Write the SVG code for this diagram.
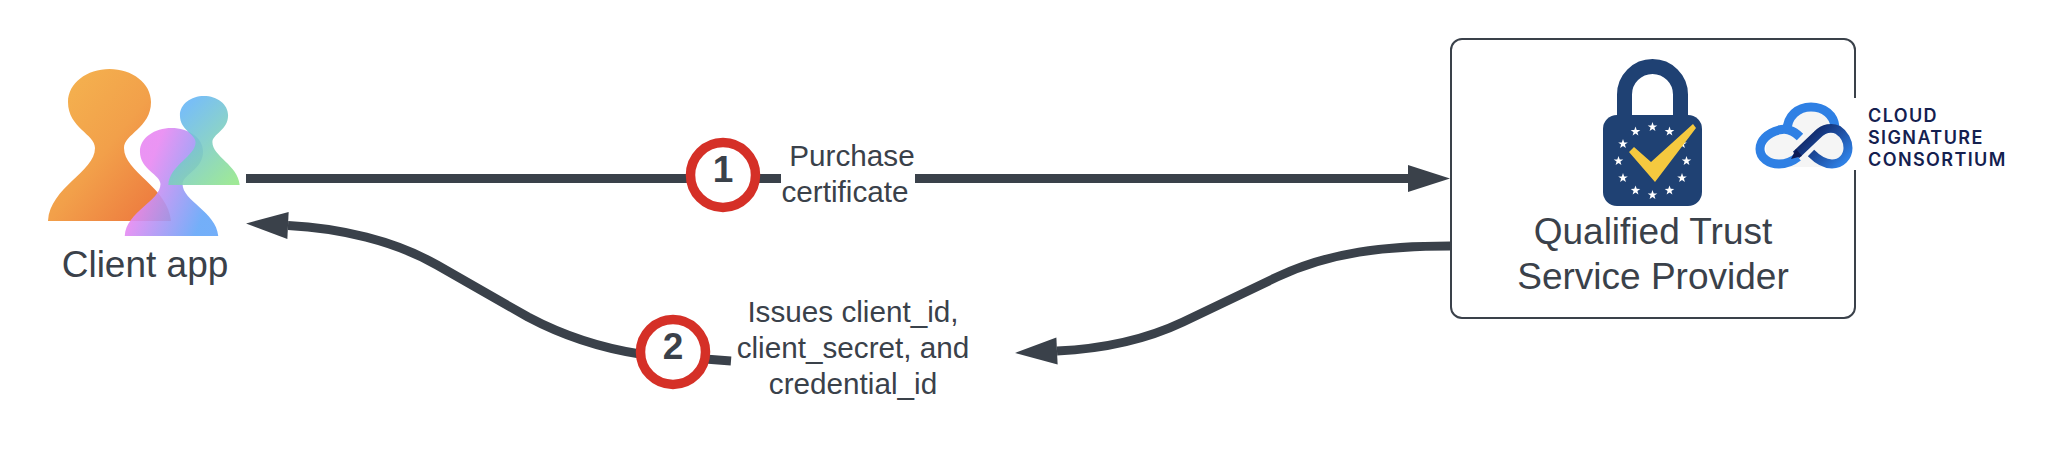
<svg xmlns="http://www.w3.org/2000/svg" width="2062" height="458" viewBox="0 0 2062 458">
<style>
text{font-family:"Liberation Sans",Arial,sans-serif;fill:#3a414a}
.node{font-size:37px;text-anchor:middle}
.lbl{font-size:29.7px;text-anchor:middle}
.num{font-size:37px;font-weight:700;text-anchor:middle}
.conn{fill:none;stroke:#3a414a;stroke-width:9}
.badge{fill:#fff;stroke:#d53027;stroke-width:9.500}
.logo{font-family:Inter,"Liberation Sans",sans-serif;font-size:18px;font-weight:600;letter-spacing:1.400px;fill:#14204f}
.c{fill:none;stroke-width:9;stroke-linecap:butt}
</style>
<defs>
<marker id="ah" markerUnits="userSpaceOnUse" markerWidth="44" markerHeight="30" refX="0" refY="15" orient="auto" overflow="visible"><path d="M0 1.500L42 15L0 28.500Z" fill="#3a414a"/></marker>
<linearGradient id="gO" x1="0" y1="0" x2="1" y2="1"><stop offset="0" stop-color="#f5b650"/><stop offset=".5" stop-color="#f2a04a"/><stop offset="1" stop-color="#ec713c"/></linearGradient>
<linearGradient id="gP" x1="0" y1="0" x2="1" y2=".45"><stop offset=".35" stop-color="#e888f2"/><stop offset="1" stop-color="#64a6f8"/></linearGradient>
<linearGradient id="gT" x1=".1" y1="0" x2=".9" y2="1"><stop offset=".15" stop-color="#66b6f4"/><stop offset="1" stop-color="#92e688"/></linearGradient>
<linearGradient id="gD" gradientUnits="userSpaceOnUse" x1="1800" y1="130" x2="1838" y2="168"><stop offset="0" stop-color="#0b1a54"/><stop offset=".55" stop-color="#1d4c9e"/><stop offset="1" stop-color="#2f80e4"/></linearGradient>
<path id="pawn" d="M48 221C50 187 95 172 95 148C95 134 68 128 68 102C68 83 87 69 109.500 69C132 69 151 83 151 102C151 128 124 134 124 148C124 172 168 187 171 221Z"/>
<polygon id="star" fill="#fff" points="0,-5 1.200,-1.600 4.800,-1.500 1.900,.6 2.900,4 0,2 -2.900,4 -1.900,.6 -4.800,-1.500 -1.200,-1.600"/>
</defs>

<g id="connectors">
<path id="c1" class="conn" d="M246 178.500H1408" marker-end="url(#ah)"/>
<path id="c2" class="conn" d="M1450 246C1385 246 1330 252 1277 277L1183 322C1145 340 1100 349 1057 351" marker-end="url(#ah)"/>
<path id="c3" class="conn" d="M731 361L640 354C595 347 560 334 528 317L437 265C395 241 340 228 288 225.500" marker-end="url(#ah)"/>
</g>

<g id="client-app">
<use href="#pawn" fill="url(#gO)"/>
<use href="#pawn" fill="url(#gP)" opacity=".9" transform="translate(171.500 128) scale(.76 .71) translate(-109.500 -69)"/>
<use href="#pawn" fill="url(#gT)" opacity=".88" transform="translate(204 96) scale(.58 .585) translate(-109.500 -69)"/>
<text class="node" x="145" y="277">Client app</text>
</g>

<g id="tsp">
<rect x="1451" y="39" width="404" height="279" rx="11" fill="#fff" stroke="#3a414a" stroke-width="2"/>
<path d="M1624.500 115V94.500a28 28 0 0 1 56 0V115" fill="none" stroke="#1f4173" stroke-width="15"/>
<rect x="1603" y="115" width="99" height="91" rx="14" fill="#1f4173"/>
<g>
<use href="#star" x="1652.500" y="127"/><use href="#star" x="1669.500" y="131.600"/><use href="#star" x="1682" y="144"/><use href="#star" x="1686.500" y="161"/><use href="#star" x="1682" y="178"/><use href="#star" x="1669.500" y="190.400"/><use href="#star" x="1652.500" y="195"/><use href="#star" x="1635.500" y="190.400"/><use href="#star" x="1623" y="178"/><use href="#star" x="1618.500" y="161"/><use href="#star" x="1623" y="144"/><use href="#star" x="1635.500" y="131.600"/>
</g>
<polygon points="1629,152 1634,147 1651,162 1693,124 1696,128 1655,182" fill="#f5c93f"/>
<text class="node" x="1653" y="244">Qualified Trust</text>
<text class="node" x="1653" y="289">Service Provider</text>
<g id="csc-logo">
<rect x="1756" y="98" width="254" height="72" fill="#fff"/>
<path d="M1766 148C1766 135 1778 130 1788 132C1790 115 1802 106 1812 106C1824 106 1834 115 1836 128C1845 132 1850 140 1850 148C1850 158 1842 167 1830 167H1780C1772 167 1766 158 1766 148Z" fill="#f5f5f5"/>
<path class="c" stroke="#2f80e4" d="M1800 137C1793 130 1785 128 1779 130C1767 133 1760 141 1760 149C1760 158 1769 164 1779 164C1787 164 1793 161 1798 157"/>
<path class="c" stroke="#2f80e4" d="M1787 131C1787 116 1798 107 1811 107C1824 107 1834 115 1835 127"/>
<path class="c" stroke="url(#gD)" d="M1796 155L1817 135C1824 128 1832 127 1838 130C1844 134 1848 141 1848 148C1848 157 1841 164 1832 164C1824 164 1817 159 1811 153"/>
<polygon points="1791,159 1796,149 1802,156" fill="#0b1a54"/>
<text class="logo" x="1868" y="122">CLOUD</text>
<text class="logo" x="1868" y="144">SIGNATURE</text>
<text class="logo" x="1868" y="166">CONSORTIUM</text>
</g>
</g>

<g id="step-1">
<rect x="781" y="140" width="134" height="70" fill="#fff"/>
<circle class="badge" cx="723" cy="175" r="32.500"/>
<text class="num" x="723" y="182">1</text>
<text class="lbl" x="852" y="166">Purchase</text>
<text class="lbl" x="845" y="202">certificate</text>
</g>

<g id="step-2">
<circle class="badge" cx="673" cy="352" r="32.500"/>
<text class="num" x="673" y="359">2</text>
<text class="lbl" x="853" y="322">Issues client_id,</text>
<text class="lbl" x="853" y="358">client_secret, and</text>
<text class="lbl" x="853" y="394">credential_id</text>
</g>
</svg>
